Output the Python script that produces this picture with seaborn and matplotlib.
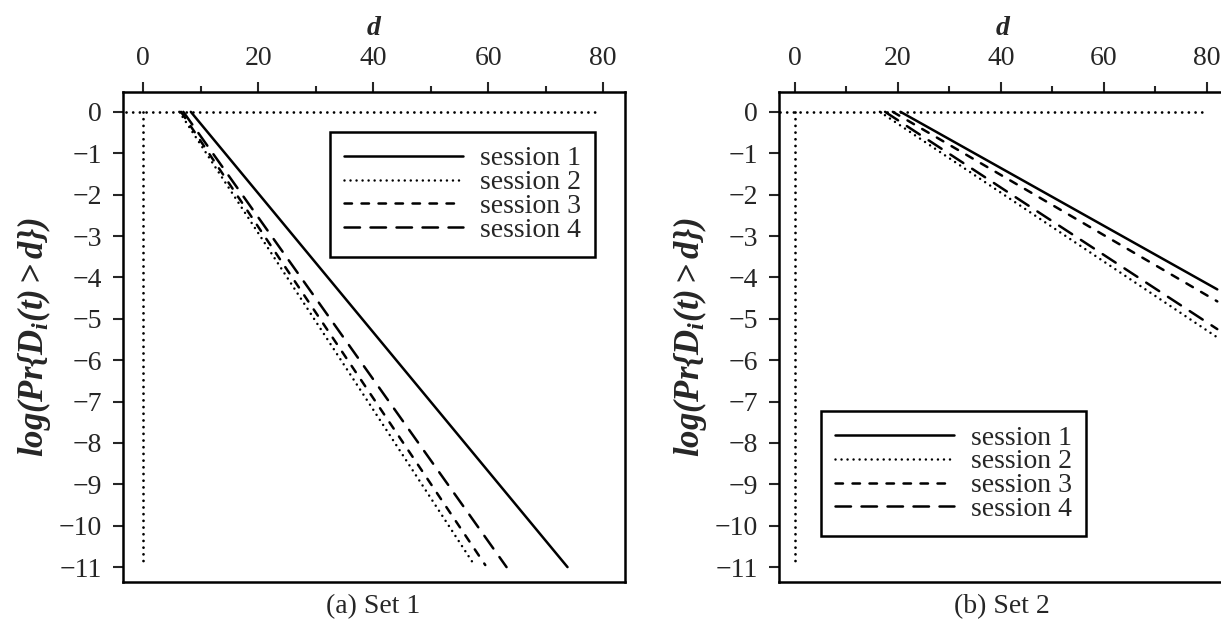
import numpy as np
import pandas as pd
import matplotlib
matplotlib.use("Agg")
import matplotlib.pyplot as plt
import seaborn as sns
from matplotlib.ticker import MultipleLocator

sns.set_theme(style='white')
plt.rcParams['font.family'] = ['Liberation Serif', 'DejaVu Serif']
plt.rcParams['mathtext.fontset'] = 'custom'
plt.rcParams['mathtext.it'] = 'Liberation Serif:italic:bold'
plt.rcParams['mathtext.rm'] = 'Liberation Serif:italic:bold'
plt.rcParams['mathtext.bf'] = 'Liberation Serif:italic:bold'
plt.rcParams['lines.dash_capstyle'] = 'round'

sessions = ['session 1', 'session 2', 'session 3', 'session 4']

# set 1: each session is a straight line from (start, 0) to (end, value)
set1_d_start = [8.3, 6.3, 6.6, 7.0]
set1_d_end = [73.8, 57.6, 59.5, 63.2]
set1_p_end = [-11.0, -10.95, -10.95, -11.0]

# set 2
set2_d_start = [20.5, 16.5, 19.0, 17.5]
set2_d_end = [82.0, 82.0, 82.0, 82.0]
set2_p_end = [-4.29, -5.45, -4.58, -5.25]

# dotted reference lines along the axes
ref_h_d = [-3.0, 79.0]
ref_h_p = [0.0, 0.0]
ref_v_d = [0.0, 0.0]
ref_v_p = [0.0, -10.88]

x_ticks = [0, 20, 40, 60, 80]
y_ticks = list(range(0, -12, -1))

dashes = {'session 1': '',
          'session 2': (0.01, 2.4),
          'session 3': (3.0, 3.8),
          'session 4': (6.2, 4.2)}


def to_frame(d_start, d_end, p_end):
    rows = []
    for s, a, b, p in zip(sessions, d_start, d_end, p_end):
        rows.append((s, a, 0.0))
        rows.append((s, b, p))
    return pd.DataFrame(rows, columns=['session', 'd', 'logp'])


def draw(ax, df, xlim, legend_loc, legend_anchor):
    sns.lineplot(data=df, x='d', y='logp', style='session', style_order=sessions,
                 dashes=dashes, color='black', linewidth=1.8, errorbar=None,
                 sort=False, legend=False, ax=ax)
    handles = ax.lines[:4]
    ax.plot(ref_h_d, ref_h_p, color='black', lw=2.0, dashes=dashes['session 2'])
    ax.plot(ref_v_d, ref_v_p, color='black', lw=2.0, dashes=dashes['session 2'])

    ax.set_xlim(*xlim)
    ax.set_ylim(-11.36, 0.48)
    ax.xaxis.tick_top()
    ax.xaxis.set_label_position('top')
    ax.set_xticks(x_ticks)
    ax.xaxis.set_minor_locator(MultipleLocator(10))
    ax.set_yticks(y_ticks)
    ax.set_yticklabels(['0'] + ['\u2212%d' % -v for v in y_ticks[1:]])
    ax.tick_params(axis='x', which='major', direction='out', length=7, width=1.5,
                   pad=8, labelsize=20, top=True, bottom=False)
    ax.tick_params(axis='x', which='minor', direction='out', length=4, width=1.5,
                   top=True, bottom=False)
    ax.tick_params(axis='y', which='major', direction='out', length=7, width=1.5,
                   pad=8, labelsize=20, left=True, right=False)
    for sp in ax.spines.values():
        sp.set_linewidth(1.8)
        sp.set_color('black')
    ax.set_xlabel(r'$d$', fontsize=20, labelpad=8)
    ax.set_ylabel(r'$log(Pr\{D_i(t) > d\})$', fontsize=25, labelpad=4)

    leg = ax.legend(handles, sessions, loc=legend_loc, bbox_to_anchor=legend_anchor,
                    fontsize=20, frameon=True, fancybox=False, framealpha=1,
                    edgecolor='black', handlelength=4.3, handletextpad=0.6,
                    labelspacing=-0.06, borderpad=0.5, borderaxespad=0)
    leg.get_frame().set_linewidth(1.8)


fig = plt.figure(figsize=(12.21, 6.24), dpi=100)
ax1 = fig.add_axes([0.1007, 0.0673, 0.4112, 0.7853])
ax2 = fig.add_axes([0.638, 0.0673, 0.3674, 0.7853])

draw(ax1, to_frame(set1_d_start, set1_d_end, set1_p_end), (-3.5, 83.8),
     'upper right', (0.94, 0.918))
draw(ax2, to_frame(set2_d_start, set2_d_end, set2_p_end), (-3.1, 84.0),
     'lower left', (0.093, 0.094))

fig.text(0.3055, 0.028, '(a) Set 1', ha='center', va='center', fontsize=20)
fig.text(0.8205, 0.028, '(b) Set 2', ha='center', va='center', fontsize=20)

fig.savefig('out.png', dpi=100)
